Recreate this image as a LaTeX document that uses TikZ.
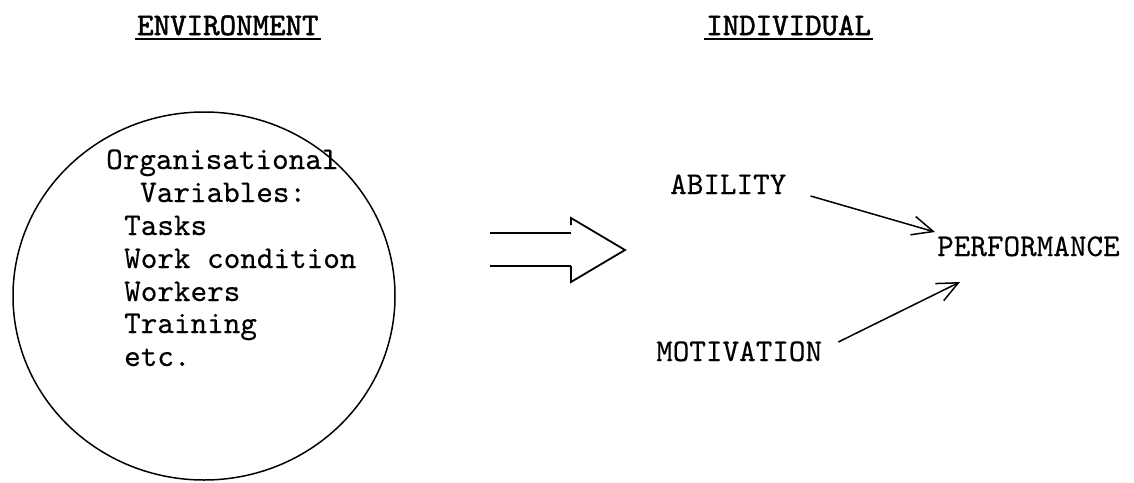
\documentclass[tikz,border=0pt]{standalone}
\usepackage{fontspec}
\newfontfamily\bodytt{lmmono10-regular.otf}[FakeBold=0.3]
\newfontfamily\headtt{lmmono10-regular.otf}[FakeBold=1.6]
\usetikzlibrary{arrows.meta,shapes.geometric}
\begin{document}
\begin{tikzpicture}[x=1pt,y=-1pt,
  lbl/.style={font=\bodytt\fontsize{31.6}{34}\selectfont, inner sep=0pt, anchor=base west},
  hdr/.style={font=\headtt\fontsize{31.4}{34}\selectfont, inner sep=0pt, anchor=base west},
  conn/.style={line width=1.5pt, -{Straight Barb[length=21pt,width=19pt,line width=1.5pt]}},
  uline/.style={line width=1.8pt},
  bigarrow/.style={line width=1.8pt, line join=miter},
  shaft/.style={line width=1.3pt}
]
\fill[white] (0,0) rectangle (1134,482);
\useasboundingbox (0,0) rectangle (1134,482);

% headers
\node[hdr] (env) at (137,35) {ENVIRONMENT};
\node[hdr] (ind) at (706,35) {INDIVIDUAL};
\draw[uline] ([shift={(-2,4)}]env.base west) -- ([shift={(2,4)}]env.base east);
\draw[uline] ([shift={(-2,4)}]ind.base west) -- ([shift={(2,4)}]ind.base east);

% environment circle
\node[draw, ellipse, line width=1.5pt, minimum width=382pt, minimum height=368pt, inner sep=0pt] (envc) at (204,296) {};
\node[lbl] (l1) at (106,169) {Organisational};
\node[lbl] (l2) at (140,202) {Variables:};
\node[lbl] (l3) at (124,235) {Tasks};
\node[lbl] (l4) at (124,268) {Work condition};
\node[lbl] (l5) at (124,301) {Workers};
\node[lbl] (l6) at (124,333) {Training};
\node[lbl] (l7) at (124,366) {etc.};

% big hollow arrow
\draw[shaft] (490,233) -- (571,233);
\draw[shaft] (490,266) -- (571,266);
\draw[bigarrow] (571,225) -- (571,218) -- (625,250) -- (571,282) -- (571,266);

% individual side
\node[lbl] (ab) at (670,194) {ABILITY};
\node[lbl] (mot) at (656,361) {MOTIVATION};
\node[lbl] (perf) at (937,256) {PERFORMANCE};

\draw[conn] ([shift={(24,2)}]ab.base east) -- ([shift={(-2,-24)}]perf.base west);
\draw[conn] ([shift={(16,-19)}]mot.base east) -- ([shift={(23,26)}]perf.base west);
\end{tikzpicture}
\end{document}
